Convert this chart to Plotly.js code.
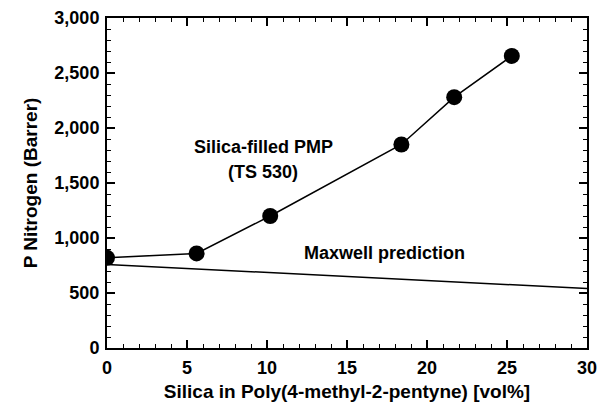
<!DOCTYPE html>
<html><head><meta charset="utf-8">
<script src="https://cdn.plot.ly/plotly-3.0.1.min.js"></script>
<style>html,body{margin:0;padding:0;background:#fff;}#chart{width:598px;height:402px;}</style>
</head><body><div id="chart"></div>
<script>
const silicaVol = [0, 5.6, 10.2, 18.4, 21.7, 25.3];
const pNitrogen = [820, 860, 1200, 1850, 2280, 2655];
const maxwellX = [0, 30];
const maxwellY = [760, 540];
const xTicks = [0, 5, 10, 15, 20, 25, 30];
const yTicks = [0, 500, 1000, 1500, 2000, 2500, 3000];
const yTickText = ['0', '500', '1,000', '1,500', '2,000', '2,500', '3,000'];

const font = {family: 'Liberation Sans, Arial, sans-serif', color: '#000'};
const bold = s => Object.assign({}, font, {size: s, weight: 'bold'});
const traces = [
  {x: maxwellX, y: maxwellY, mode: 'lines', line: {color: '#000', width: 1.5}, hoverinfo: 'skip'},
  {x: silicaVol, y: pNitrogen, mode: 'lines+markers', line: {color: '#000', width: 1.5},
   marker: {color: '#000', size: 16, symbol: 'circle'}}
];
function axis(extra) {
  return Object.assign({
    showline: true, linecolor: '#000', linewidth: 2, mirror: 'allticks',
    tickmode: 'array', ticks: 'inside', ticklen: 8, tickwidth: 1.5, tickcolor: '#000',
    showgrid: false, zeroline: false, ticklabelstandoff: 2,
    tickfont: bold(18)
  }, extra);
}
const layout = {
  width: 598, height: 402,
  margin: {l: 107, r: 11, t: 18, b: 54},
  paper_bgcolor: '#fff', plot_bgcolor: '#fff',
  showlegend: false,
  xaxis: axis({
    range: [0, 30], tickvals: xTicks,
    minor: {ticks: 'inside', ticklen: 4, tickwidth: 1, tickcolor: '#000', dtick: 1, tick0: 0, showgrid: false},
    title: {text: 'Silica in Poly(4-methyl-2-pentyne) [vol%]', font: bold(19), standoff: 10}
  }),
  yaxis: axis({
    range: [0, 3000], tickvals: yTicks, ticktext: yTickText,
    minor: {ticks: 'inside', ticklen: 4, tickwidth: 1, tickcolor: '#000', dtick: 100, tick0: 0, showgrid: false},
    title: {text: 'P Nitrogen (Barrer)', font: bold(19), standoff: 12}
  }),
  annotations: [
    {x: 9.75, y: 1827, xref: 'x', yref: 'y', text: 'Silica-filled PMP', showarrow: false, font: bold(18)},
    {x: 9.75, y: 1600, xref: 'x', yref: 'y', text: '(TS 530)', showarrow: false, font: bold(18)},
    {x: 12.2, y: 864, xref: 'x', yref: 'y', text: 'Maxwell prediction', showarrow: false, xanchor: 'left', font: bold(18)}
  ]
};
Plotly.newPlot('chart', traces, layout, {displayModeBar: false, staticPlot: true});
</script></body></html>
